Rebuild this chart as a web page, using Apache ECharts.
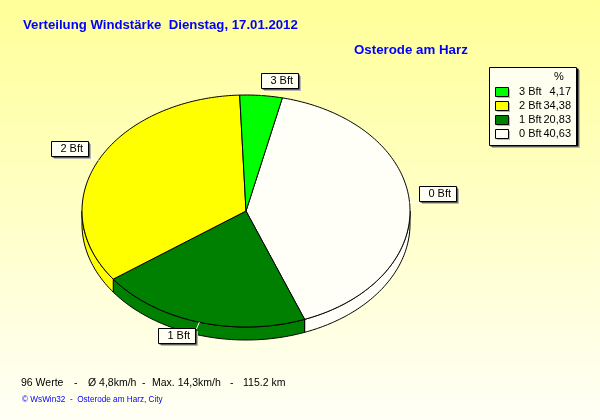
<!DOCTYPE html>
<html>
<head>
<meta charset="utf-8">
<script src="https://cdn.jsdelivr.net/npm/echarts@6/dist/echarts.min.js"></script>
<style>html,body{margin:0;padding:0;}#chart{width:600px;height:420px;}</style>
</head>
<body>
<div id="chart"></div>
<script>
// slices run clockwise starting from 0 Bft
var categories = ['0 Bft', '1 Bft', '2 Bft', '3 Bft'];
var shares = [40.63, 20.83, 34.38, 4.17];
var shareLabels = ['40,63', '20,83', '34,38', '4,17'];
var colors = ['#fffff8', '#008000', '#ffff00', '#00ff00'];
var legendOrder = [3, 2, 1, 0];

var titleText = 'Verteilung Windstärke  Dienstag, 17.01.2012';
var placeText = 'Osterode am Harz';
var statsTexts = ['96 Werte', '-', 'Ø 4,8km/h', '-', 'Max. 14,3km/h', '-', '115.2 km'];
var statsLeft = [21, 74, 88, 142, 152, 230, 243];
var footText = '© WsWin32  -  Osterode am Harz, City';

var cx = 246, cy = 211, rx = 164, ry = 116, depth = 13;
var startDeg = 12.8;
var total = shares.reduce(function (a, b) { return a + b; }, 0);

function pt(deg, drop, extra) {
    var a = deg * Math.PI / 180;
    return [cx + (rx + (extra || 0)) * Math.sin(a), cy + drop - (ry + (extra || 0) * 0.7) * Math.cos(a)];
}

function arc(from, to, drop) {
    var out = [];
    var n = Math.max(2, Math.ceil(Math.abs(to - from)));
    for (var i = 0; i <= n; i++) {
        out.push(pt(from + (to - from) * i / n, drop));
    }
    return out;
}

function sliceAngles(idx) {
    var before = 0;
    for (var i = 0; i < idx; i++) before += shares[i];
    return [startDeg + before / total * 360, startDeg + (before + shares[idx]) / total * 360];
}

function renderSlice(params, api) {
    var idx = api.value(0);
    var ang = sliceAngles(idx);
    var line = { stroke: '#000', lineWidth: 1, fill: colors[idx] };
    var children = [];
    // side wall, only the part on the front of the ellipse (90..270 deg)
    var wallFrom = Math.max(ang[0], 90), wallTo = Math.min(ang[1], 270);
    if (wallTo > wallFrom) {
        children.push({
            type: 'polygon',
            shape: { points: arc(wallFrom, wallTo, 0).concat(arc(wallTo, wallFrom, depth)) },
            style: line
        });
    }
    children.push({
        type: 'polygon',
        shape: { points: [[cx, cy]].concat(arc(ang[0], ang[1], 0)) },
        style: line
    });
    return { type: 'group', children: children };
}

function renderLabel(params, api) {
    var idx = api.value(0);
    var ang = sliceAngles(idx);
    var mid = (ang[0] + ang[1]) / 2;
    var a = pt(mid, 0);
    var b = pt(mid, 0, 10);
    var w = 37, h = 15;
    var right = Math.sin(mid * Math.PI / 180) > 0;
    var lower = Math.cos(mid * Math.PI / 180) < 0;
    var bx = Math.round(right ? b[0] - 1 : b[0] - w - 1.5);
    var by = Math.round(lower ? b[1] - 1 : b[1] - h - 1);
    return {
        type: 'group',
        children: [
            { type: 'line', shape: { x1: a[0], y1: a[1], x2: b[0], y2: b[1] }, style: { stroke: '#fff', lineWidth: 1 } },
            { type: 'rect', shape: { x: bx + 3, y: by + 3, width: w, height: h }, style: { fill: '#b8b8b0' } },
            { type: 'rect', shape: { x: bx + 1.5, y: by + 1.5, width: w, height: h }, style: { fill: '#000' } },
            { type: 'rect', shape: { x: bx + 0.5, y: by + 0.5, width: w, height: h }, style: { fill: '#fffff4', stroke: '#000', lineWidth: 1 } },
            { type: 'text', style: { x: bx + w - 5, y: by + 8, text: categories[idx], fill: '#000', font: '11px "Liberation Sans"', align: 'right', verticalAlign: 'middle' } }
        ]
    };
}

// legend box, built from the same arrays
var legendItems = [
    { type: 'rect', shape: { x: 492, y: 70, width: 88, height: 78 }, style: { fill: '#b8b8b0' } },
    { type: 'rect', shape: { x: 490.5, y: 68.5, width: 88, height: 78 }, style: { fill: '#000' } },
    { type: 'rect', shape: { x: 489.5, y: 67.5, width: 87, height: 78 }, style: { fill: '#fffff0', stroke: '#000', lineWidth: 1 } },
    { type: 'text', style: { x: 559, y: 77, text: '%', fill: '#000', font: '11px "Liberation Sans"', align: 'center', verticalAlign: 'middle' } }
];
legendOrder.forEach(function (idx, row) {
    var y = 88 + row * 14;
    legendItems.push(
        { type: 'rect', shape: { x: 497, y: y + 1, width: 13, height: 9 }, style: { fill: '#b8b8b0' } },
        { type: 'rect', shape: { x: 495.5, y: y - 0.5, width: 13, height: 9 }, style: { fill: colors[idx], stroke: '#000', lineWidth: 1 } },
        { type: 'text', style: { x: 519, y: y + 4, text: categories[idx], fill: '#000', font: '11px "Liberation Sans"', verticalAlign: 'middle' } },
        { type: 'text', style: { x: 571, y: y + 4, text: shareLabels[idx], fill: '#000', font: '11px "Liberation Sans"', align: 'right', verticalAlign: 'middle' } }
    );
});

var statsItems = statsTexts.map(function (t, i) {
    return { type: 'text', left: statsLeft[i], top: 378, style: { text: t, fill: '#000', font: '10.5px "Liberation Sans"' } };
});

var chart = echarts.init(document.getElementById('chart'));
var indexData = categories.map(function (c, i) { return [i]; });
chart.setOption({
    animation: false,
    backgroundColor: new echarts.graphic.LinearGradient(0, 0, 0, 1, [
        { offset: 0, color: '#ffff99' },
        { offset: 1, color: '#fffff6' }
    ]),
    series: [
        { type: 'custom', coordinateSystem: 'none', renderItem: renderSlice, data: indexData, z: 2, silent: true },
        { type: 'custom', coordinateSystem: 'none', renderItem: renderLabel, data: indexData, z: 3, silent: true }
    ],
    graphic: [
        { type: 'text', left: 23, top: 19, style: { text: titleText, fill: '#0000ff', font: 'bold 13.2px "Liberation Sans"' } },
        { type: 'text', left: 354, top: 44, style: { text: placeText, fill: '#0000ff', font: 'bold 13.3px "Liberation Sans"' } },
        { type: 'text', left: 22, top: 396, style: { text: footText, fill: '#0000ff', font: '8.2px "Liberation Sans"' } }
    ].concat(statsItems).concat(legendItems.map(function (el) {
        el.z = 10;
        return el;
    }))
});
</script>
</body>
</html>
